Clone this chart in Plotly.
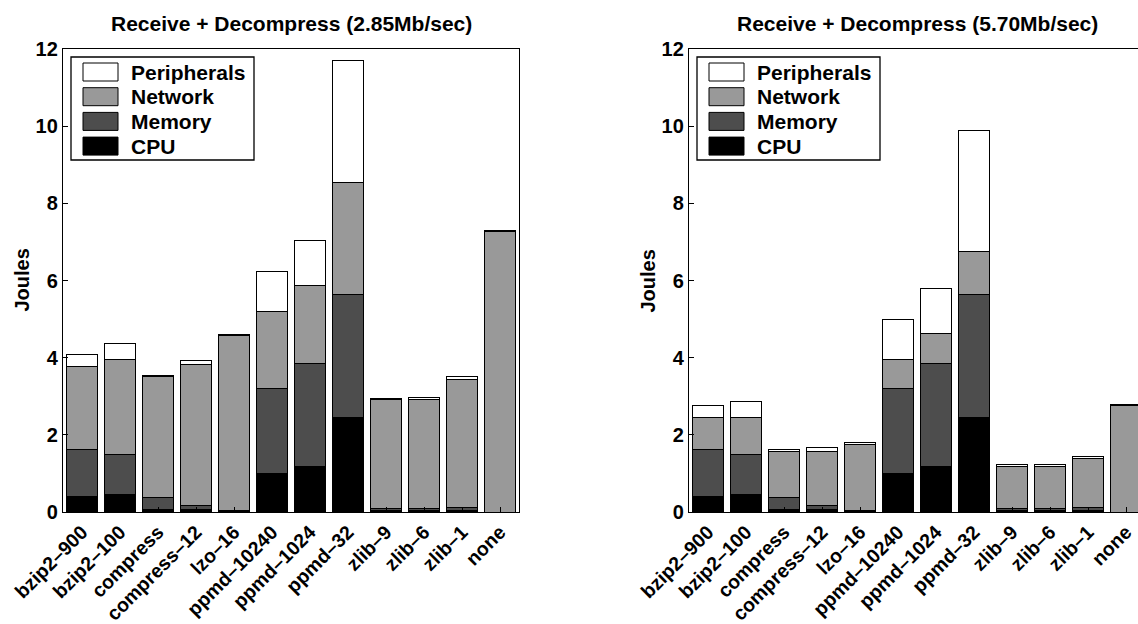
import plotly.graph_objects as go

# Compression methods along the x axis
categories = ["bzip2–900", "bzip2–100", "compress", "compress–12", "lzo–16",
              "ppmd–10240", "ppmd–1024", "ppmd–32", "zlib–9", "zlib–6", "zlib–1", "none"]

# Energy per component (Joules), stacked bottom to top
cpu = [0.41, 0.45, 0.07, 0.07, 0.02, 1.00, 1.17, 2.46, 0.04, 0.04, 0.05, 0.00]
memory = [1.21, 1.04, 0.30, 0.10, 0.015, 2.20, 2.69, 3.18, 0.06, 0.06, 0.07, 0.00]

network_285 = [2.16, 2.46, 3.14, 3.66, 4.54, 1.99, 2.01, 2.90, 2.81, 2.81, 3.32, 7.27]
peripherals_285 = [0.30, 0.41, 0.04, 0.09, 0.02, 1.04, 1.17, 3.15, 0.04, 0.05, 0.06, 0.03]

network_570 = [0.82, 0.95, 1.19, 1.39, 1.72, 0.76, 0.77, 1.10, 1.07, 1.07, 1.27, 2.76]
peripherals_570 = [0.31, 0.42, 0.05, 0.11, 0.04, 1.02, 1.16, 3.15, 0.05, 0.05, 0.05, 0.03]

series_names = ["CPU", "Memory", "Network", "Peripherals"]
series_colors = ["#000000", "#4d4d4d", "#999999", "#ffffff"]

panel_titles = ["Receive + Decompress (2.85Mb/sec)", "Receive + Decompress (5.70Mb/sec)"]
panel_series = [
    [cpu, memory, network_285, peripherals_285],
    [cpu, memory, network_570, peripherals_570],
]
y_ticks = [0, 2, 4, 6, 8, 10, 12]

W, H = 1138, 624
FONT = "Liberation Sans, Arial, Helvetica, sans-serif"

# Panel geometry in pixels
PLOT_TOP, PLOT_BOTTOM = 49, 512
PANEL_LEFT = [63, 689]
PANEL_WIDTH = 456
UNIT_PX = PANEL_WIDTH / 12.0


def px(x):
    return x / W


def py(y):
    return 1 - y / H


fig = go.Figure()
x_pos = list(range(1, len(categories) + 1))

for p, series in enumerate(panel_series):
    xa = "x" if p == 0 else "x2"
    ya = "y" if p == 0 else "y2"
    for name, color, vals in zip(series_names, series_colors, series):
        fig.add_trace(go.Bar(
            x=x_pos, y=vals, name=name, xaxis=xa, yaxis=ya,
            marker=dict(color=color, line=dict(color="#000000", width=1)),
            showlegend=False, hoverinfo="skip",
        ))

axis_common = dict(
    showline=True, linecolor="#000000", linewidth=1.3,
    ticks="inside", ticklen=5, tickcolor="#000000", tickwidth=1,
    showgrid=False, zeroline=False, automargin=False,
)

shapes = []
annotations = []

for p in range(2):
    left = PANEL_LEFT[p]
    right = left + PANEL_WIDTH
    dom_right = min(right, W)
    x_hi = 0.5 + (dom_right - left) / UNIT_PX
    xkey = "xaxis" if p == 0 else "xaxis2"
    ykey = "yaxis" if p == 0 else "yaxis2"
    fig.update_layout(**{
        xkey: dict(axis_common, domain=[px(left), px(dom_right)], range=[0.5, x_hi],
                   tickvals=x_pos, ticktext=categories, tickangle=-45,
                   tickfont=dict(family=FONT, size=19.5, color="#000000", weight="bold"),
                   mirror=True, anchor="y" if p == 0 else "y2"),
        ykey: dict(axis_common, domain=[py(PLOT_BOTTOM), py(PLOT_TOP)], range=[0, 12],
                   tickvals=y_ticks, mirror=(right <= W),
                   tickfont=dict(family=FONT, size=20, color="#000000", weight="bold"),
                   anchor="x" if p == 0 else "x2"),
    })

    # Panel title
    annotations.append(dict(
        x=px((left + right) / 2), y=py(24), xref="paper", yref="paper",
        text=panel_titles[p], showarrow=False, xanchor="center", yanchor="middle",
        font=dict(family=FONT, size=21, color="#000000", weight="bold"),
    ))
    # Y axis label
    annotations.append(dict(
        x=px(left - 42), y=py((PLOT_TOP + PLOT_BOTTOM) / 2), xref="paper", yref="paper",
        text="Joules", showarrow=False, textangle=-90,
        xanchor="center", yanchor="middle",
        font=dict(family=FONT, size=20, color="#000000", weight="bold"),
    ))

    # Legend box in the upper-left corner of each panel
    lx0, ly0 = left + 8, 57
    lx1, ly1 = left + 191, 160
    shapes.append(dict(type="rect", xref="paper", yref="paper",
                       x0=px(lx0), x1=px(lx1), y0=py(ly1), y1=py(ly0),
                       line=dict(color="#000000", width=1.3), fillcolor="#ffffff", layer="above"))
    legend_items = list(zip(series_names, series_colors))[::-1]
    for i, (name, color) in enumerate(legend_items):
        top = 63 + i * 24.7
        shapes.append(dict(type="rect", xref="paper", yref="paper",
                           x0=px(left + 20), x1=px(left + 55),
                           y0=py(top + 18), y1=py(top),
                           line=dict(color="#000000", width=1), fillcolor=color, layer="above"))
        annotations.append(dict(
            x=px(left + 66), y=py(top + 9), xref="paper", yref="paper",
            text=name, showarrow=False, xanchor="left", yanchor="middle",
            font=dict(family=FONT, size=21, color="#000000", weight="bold"),
        ))

fig.update_layout(
    width=W, height=H,
    margin=dict(l=0, r=0, t=0, b=0, autoexpand=False),
    barmode="stack", bargap=0.2,
    plot_bgcolor="#ffffff", paper_bgcolor="#ffffff",
    shapes=shapes, annotations=annotations,
    showlegend=False,
)

fig.write_html("out.html")
